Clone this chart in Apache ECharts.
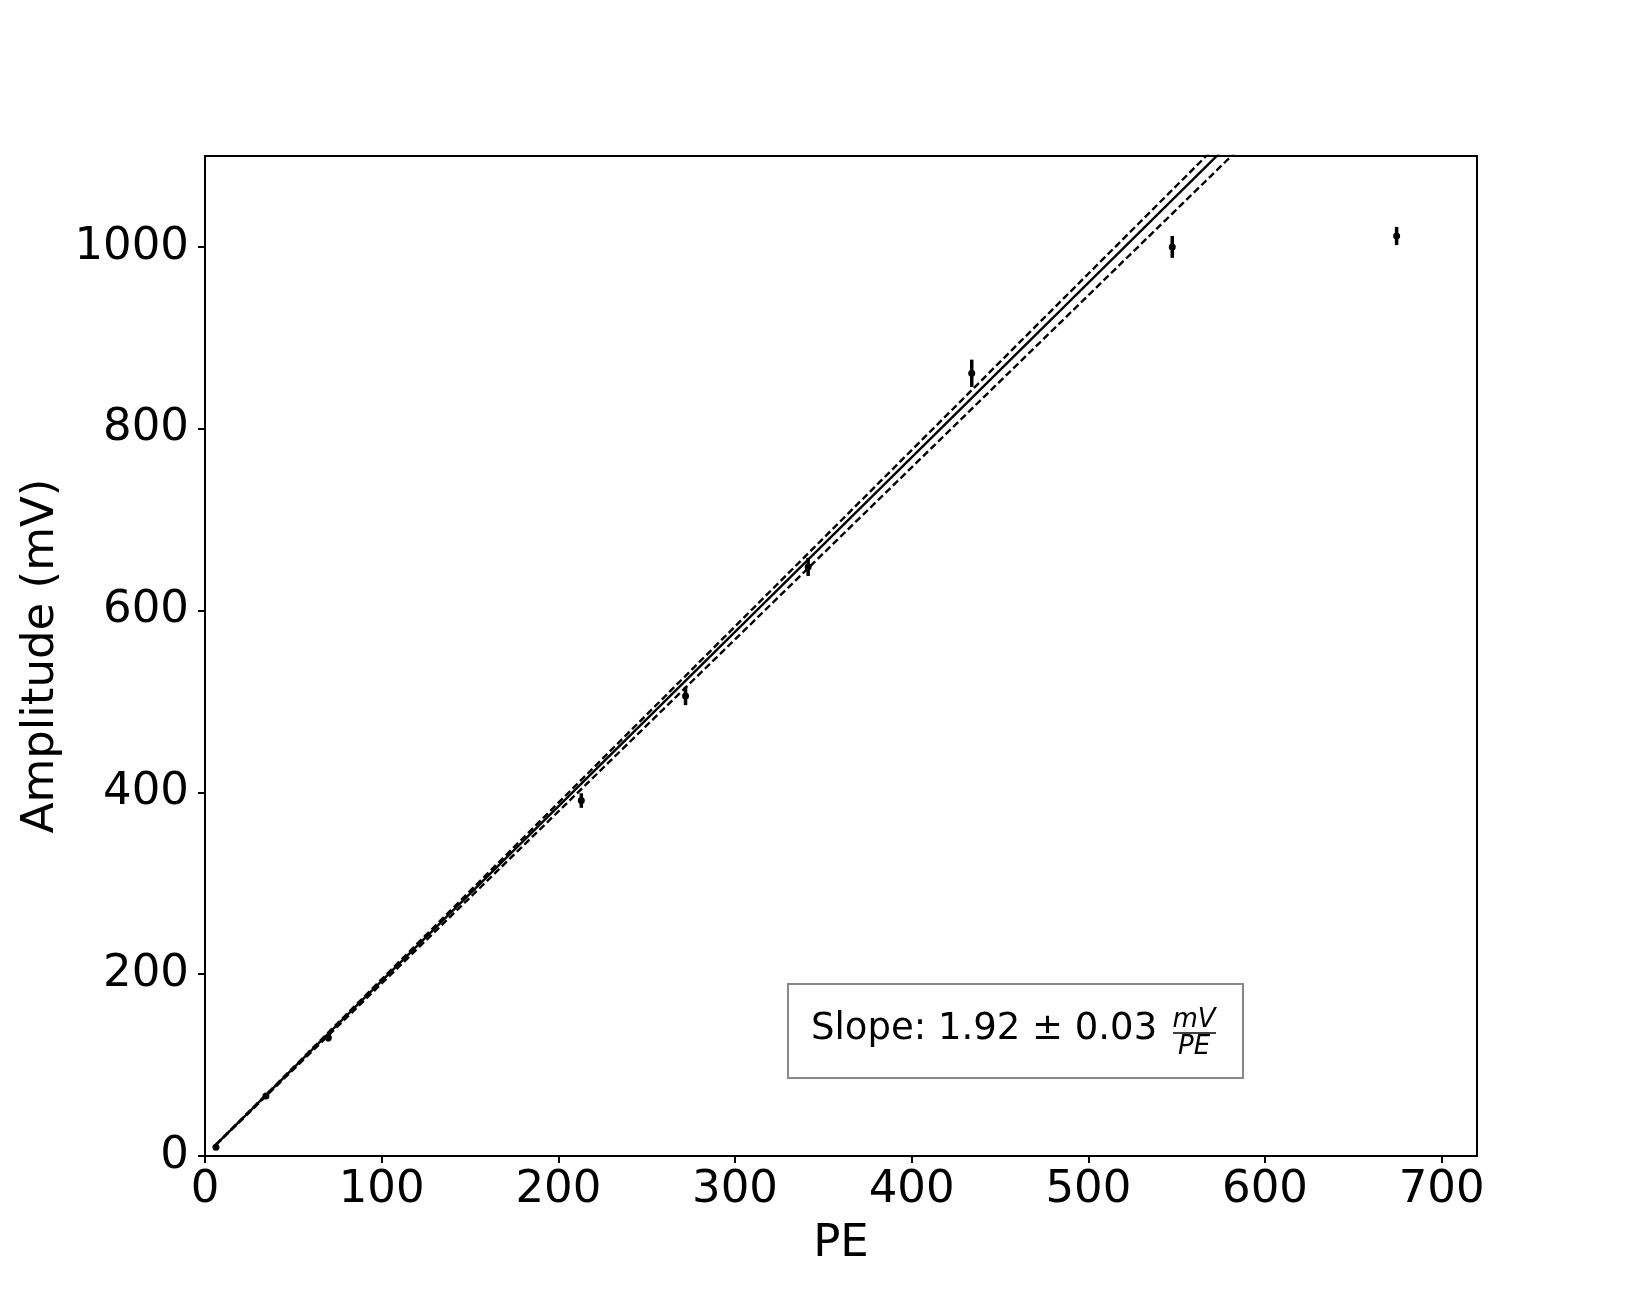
<!DOCTYPE html>
<html>
<head>
<meta charset="utf-8">
<script src="https://cdn.jsdelivr.net/npm/echarts@6/dist/echarts.min.js"></script>
<style>
html,body{margin:0;padding:0;background:#fff;}
#chart{width:1641px;height:1299px;}
</style>
</head>
<body>
<div id="chart"></div>
<script>
// Measured data points (PE, Amplitude mV, error mV)
const peValues = [6.2, 34.5, 69.8, 213, 272, 341.4, 434, 547.5, 674.5];
const ampValues = [9.7, 66, 130, 391, 506, 648, 861, 1000, 1012];
const ampErrors = [1, 2, 4, 8, 10, 10, 15, 12, 10];

// Fit line endpoints
const fitX = [6.2, 674.5];
const fitY = [12.4, 1295.5];
const fitUpperY = [12.5, 1309];
const fitLowerY = [12.2, 1277];

const xTicks = [0, 100, 200, 300, 400, 500, 600, 700];
const yTicks = [0, 200, 400, 600, 800, 1000];

const FONT = 'DejaVu Sans';

const chart = echarts.init(document.getElementById('chart'));

const points = peValues.map((x, i) => [x, ampValues[i], ampErrors[i]]);
const pair = (ys) => fitX.map((x, i) => [x, ys[i]]);

const option = {
  animation: false,
  backgroundColor: '#fff',
  grid: {
    left: 205, right: 164, top: 156, bottom: 143,
    outerBoundsMode: 'none', containLabel: false,
    show: true, borderColor: '#000', borderWidth: 2, backgroundColor: 'transparent'
  },
  xAxis: {
    type: 'value', min: 0, max: 720,
    name: 'PE', nameLocation: 'middle', nameGap: 66,
    nameTextStyle: {fontFamily: FONT, fontSize: 45, color: '#000'},
    axisLine: {show: true, onZero: false, lineStyle: {color: '#000', width: 2}},
    axisTick: {show: true, length: 7, lineStyle: {color: '#000', width: 2}, customValues: xTicks},
    axisLabel: {fontFamily: FONT, fontSize: 45, color: '#000', margin: 12, customValues: xTicks,
                formatter: v => String(v)},
    splitLine: {show: false}
  },
  yAxis: {
    type: 'value', min: 0, max: 1100,
    name: 'Amplitude (mV)', nameLocation: 'middle', nameGap: 134,
    nameTextStyle: {fontFamily: FONT, fontSize: 45, color: '#000'},
    axisLine: {show: true, onZero: false, lineStyle: {color: '#000', width: 2}},
    axisTick: {show: true, length: 7, lineStyle: {color: '#000', width: 2}, customValues: yTicks},
    axisLabel: {fontFamily: FONT, fontSize: 45, color: '#000', margin: 16, customValues: yTicks,
                formatter: v => String(v)},
    splitLine: {show: false}
  },
  series: [
    {
      type: 'line', data: pair(fitY), showSymbol: false, symbol: 'none', clip: true,
      lineStyle: {color: '#000', width: 2.4}, z: 3
    },
    {
      type: 'line', data: pair(fitUpperY), showSymbol: false, symbol: 'none', clip: true,
      lineStyle: {color: '#000', width: 2.4, type: [7, 3.5]}, z: 3
    },
    {
      type: 'line', data: pair(fitLowerY), showSymbol: false, symbol: 'none', clip: true,
      lineStyle: {color: '#000', width: 2.4, type: [7, 3.5]}, z: 3
    },
    {
      type: 'custom', data: points, clip: true, z: 4,
      renderItem: function (params, api) {
        const x = api.value(0), y = api.value(1), e = api.value(2);
        const lo = api.coord([x, y - e]);
        const hi = api.coord([x, y + e]);
        const c = api.coord([x, y]);
        return {
          type: 'group',
          children: [
            {type: 'line', shape: {x1: lo[0], y1: lo[1], x2: hi[0], y2: hi[1]},
             style: {stroke: '#000', lineWidth: 3.5}},
            {type: 'circle', shape: {cx: c[0], cy: c[1], r: 3.5}, style: {fill: '#000'}}
          ]
        };
      }
    }
  ],
  graphic: [
    {type: 'rect', shape: {x: 788, y: 984, width: 455, height: 94},
     style: {fill: '#fff', stroke: '#888', lineWidth: 2}, z: 10},
    {type: 'text', x: 811, y: 1029,
     style: {text: 'Slope: 1.92 \u00b1 0.03', fontFamily: FONT, fontSize: 37, fill: '#000',
             align: 'left', verticalAlign: 'middle'}, z: 11},
    {type: 'text', x: 1194, y: 1020,
     style: {text: 'mV', fontFamily: FONT, fontStyle: 'italic', fontSize: 26, fill: '#000',
             align: 'center', verticalAlign: 'middle'}, z: 11},
    {type: 'line', shape: {x1: 1173, y1: 1033, x2: 1216, y2: 1033},
     style: {stroke: '#000', lineWidth: 1.6}, z: 11},
    {type: 'text', x: 1194, y: 1047,
     style: {text: 'PE', fontFamily: FONT, fontStyle: 'italic', fontSize: 26, fill: '#000',
             align: 'center', verticalAlign: 'middle'}, z: 11}
  ]
};

chart.setOption(option);
</script>
</body>
</html>
